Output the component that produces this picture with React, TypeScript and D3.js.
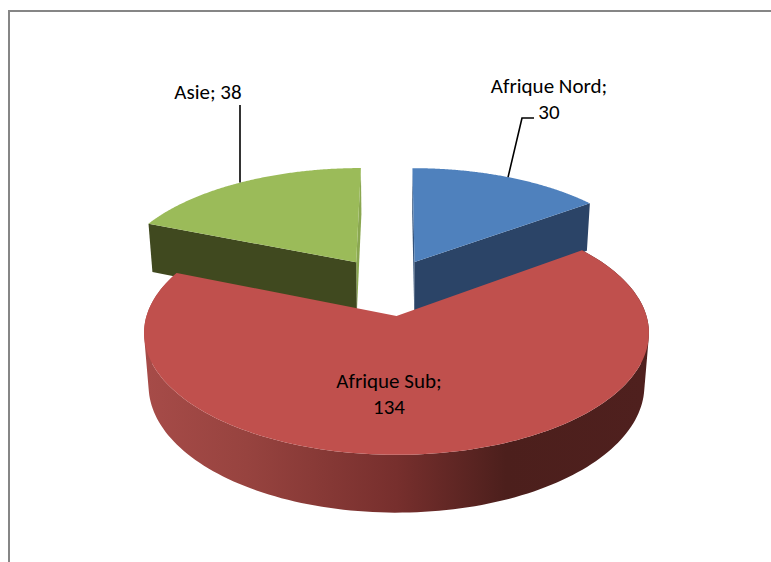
import React from "react";
import * as d3 from "d3";

const categories = ["Afrique Nord", "Afrique Sub", "Asie"];
const values = [30, 134, 38];
const topColours = ["#4f81bd", "#c0504d", "#9bbb59"];
const sideColours = ["#2b4467", "#a34a47", "#40491f"];
const innerEdgeColours = ["#33537c", "#a34a47", "#8aa750"];
const labelLines = [["Afrique Nord;", "30"], ["Afrique Sub;", "134"], ["Asie; 38"]];
const labelAnchors: [number, number][] = [[549, 93], [389, 388], [208, 99]];
const explode: [number, number][] = [[0.077, -0.482], [0, 0], [-0.172, -0.48]];
const sliceRadius = [1.012, 1, 1.015];

const WIDTH = 771;
const HEIGHT = 562;
const CX = 396.5;
const RX_SCALE = 250;
const FORE_C = -0.139;
const V_GAIN = 75.6;
const APEX_Y = 316;
const DEPTH_Y = 59;
const DEPTH_W = 0.018;

// Perspective view of a unit disc lying flat; depth 0 is the top face, 1 the underside.
function project(u: number, v: number, depth: number): [number, number] {
  const w = 1 + FORE_C * v + DEPTH_W * depth;
  return [CX + (RX_SCALE * u) / w, (V_GAIN * v + APEX_Y + DEPTH_Y * depth) / w];
}

const pieAngles = d3
  .pie<number>()
  .sort(null)
  .startAngle(0)
  .endAngle(2 * Math.PI)(values);

const line = d3.line();
const STEPS = 160;

function rimPoint(i: number, angle: number, depth: number): [number, number] {
  const [ou, ov] = explode[i];
  const r = sliceRadius[i];
  return project(ou + r * Math.sin(angle), ov - r * Math.cos(angle), depth);
}

function apex(i: number, depth: number): [number, number] {
  return project(explode[i][0], explode[i][1], depth);
}

function sweep(i: number, k: number): number {
  const slice = pieAngles[i];
  return slice.startAngle + ((slice.endAngle - slice.startAngle) * k) / STEPS;
}

function topFace(i: number): string {
  const rim = d3.range(0, STEPS + 1).map((k) => rimPoint(i, sweep(i, k), 0));
  return line([apex(i, 0), ...rim]) + "Z";
}

// The curved wall is one path of thin quads, all wound the same way,
// so nonzero filling stays solid where the wall folds at the silhouette.
function outerWall(i: number): string {
  return d3
    .range(0, STEPS)
    .map((k) => {
      const a = sweep(i, k);
      const b = sweep(i, k + 1);
      const quad = [rimPoint(i, a, 0), rimPoint(i, b, 0), rimPoint(i, b, 1), rimPoint(i, a, 1)];
      const wound = d3.polygonArea(quad) < 0 ? quad.reverse() : quad;
      return line(wound) + "Z";
    })
    .join("");
}

function cutWall(i: number, angle: number): string {
  return line([apex(i, 0), rimPoint(i, angle, 0), rimPoint(i, angle, 1), apex(i, 1)]) + "Z";
}

function midPoint(i: number): [number, number] {
  return rimPoint(i, (pieAngles[i].startAngle + pieAngles[i].endAngle) / 2, 0);
}

const leaderNord = line([[534, 118], [522, 118], midPoint(0)]) as string;
const leaderAsie = line([[240, 105], [240, midPoint(2)[1]]]) as string;

const redStops: [number, string][] = [
  [0, "#a64b48"],
  [0.2, "#97433f"],
  [0.5, "#772f2d"],
  [0.72, "#4c1f1c"],
  [1, "#4f201e"],
];

export default function App() {
  return (
    <svg
      width={WIDTH}
      height={HEIGHT}
      style={{ position: "absolute", left: 0, top: 0, background: "#fff" }}
      fontFamily="Carlito, Lato, sans-serif"
      fontSize={21}
    >
      <defs>
        <linearGradient id="redWall" gradientUnits="userSpaceOnUse" x1={148} x2={645} y1={0} y2={0}>
          {redStops.map(([o, c]) => (
            <stop key={o} offset={o} stopColor={c} />
          ))}
        </linearGradient>
      </defs>
      <rect x={9} y={11} width={WIDTH + 20} height={HEIGHT + 20} fill="#fff" stroke="#868686" strokeWidth={2} />

      {/* Detached slices sit behind the large one */}
      <path d={cutWall(0, pieAngles[0].startAngle)} fill={innerEdgeColours[0]} />
      <path d={cutWall(0, pieAngles[0].endAngle)} fill={sideColours[0]} />
      <path d={topFace(0)} fill={topColours[0]} />
      <path d={cutWall(2, pieAngles[2].endAngle)} fill={innerEdgeColours[2]} />
      <path d={cutWall(2, pieAngles[2].startAngle)} fill={sideColours[2]} />
      <path d={topFace(2)} fill={topColours[2]} />

      <path d={outerWall(1)} fill="url(#redWall)" />
      <path d={topFace(1)} fill={topColours[1]} />

      <path d={leaderNord} fill="none" stroke="#000" strokeWidth={1.6} />
      <path d={leaderAsie} fill="none" stroke="#000" strokeWidth={1.6} />

      {categories.map((c, i) => (
        <text key={c} y={labelAnchors[i][1]} textAnchor="middle" fill="#000">
          {labelLines[i].map((t, k) => (
            <tspan key={t} x={labelAnchors[i][0]} dy={k === 0 ? 0 : 26}>
              {t}
            </tspan>
          ))}
        </text>
      ))}
    </svg>
  );
}
